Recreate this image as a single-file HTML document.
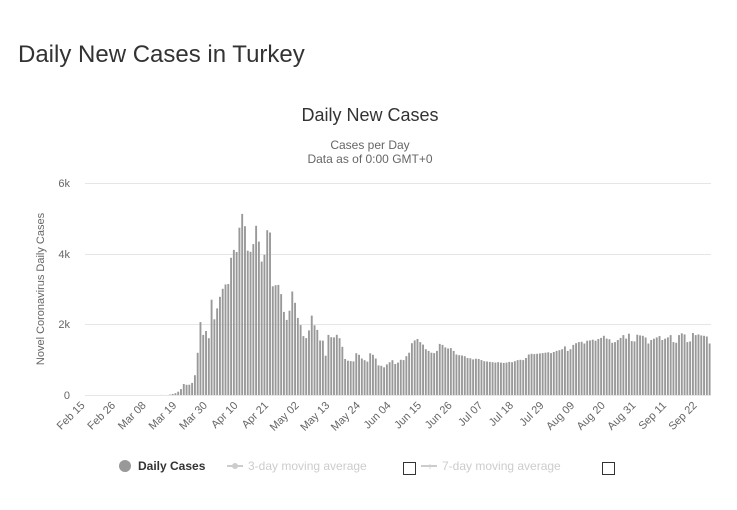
<!DOCTYPE html>
<html><head><meta charset="utf-8"><style>
html,body{margin:0;padding:0;background:#fff;width:737px;height:510px;overflow:hidden}
svg{display:block;font-family:"Liberation Sans",sans-serif}
</style></head><body>
<svg id="c" width="737" height="510" xmlns="http://www.w3.org/2000/svg">
<text x="18" y="62" font-size="24" fill="#333">Daily New Cases in Turkey</text>
<text x="370" y="121" font-size="18" fill="#333" text-anchor="middle">Daily New Cases</text>
<text x="370" y="149" font-size="12" fill="#666" text-anchor="middle">Cases per Day</text>
<text x="370" y="163" font-size="12" fill="#666" text-anchor="middle">Data as of 0:00 GMT+0</text>
<g stroke="#e6e6e6" stroke-width="1">
<line x1="85" y1="183.5" x2="711" y2="183.5"/>
<line x1="85" y1="254.5" x2="711" y2="254.5"/>
<line x1="85" y1="324.5" x2="711" y2="324.5"/>
<line x1="85" y1="395.5" x2="711" y2="395.5"/>
</g>
<g font-size="11" fill="#666" text-anchor="end">
<text x="70" y="187">6k</text>
<text x="70" y="258">4k</text>
<text x="70" y="328">2k</text>
<text x="70" y="399">0</text>
</g>
<text transform="translate(44,289) rotate(-90)" font-size="11" fill="#666" text-anchor="middle">Novel Coronavirus Daily Cases</text>
<g id="bars" fill="#999"></g>
<g id="xl" font-size="11" fill="#666" text-anchor="end"></g>
<circle cx="125" cy="466" r="6" fill="#999"/>
<text x="138" y="470" font-size="12" font-weight="bold" fill="#333">Daily Cases</text>
<line x1="227" y1="466" x2="243" y2="466" stroke="#ccc" stroke-width="2"/>
<circle cx="235" cy="466" r="3" fill="#ccc"/>
<text x="248" y="470" font-size="12" fill="#ccc">3-day moving average</text>
<rect x="403.5" y="462.5" width="12" height="12" fill="#fff" stroke="#333"/>
<line x1="421" y1="466" x2="437" y2="466" stroke="#ccc" stroke-width="2"/>
<text x="430" y="470" font-size="10" fill="#ccc" text-anchor="middle">+</text>
<text x="442" y="470" font-size="12" fill="#ccc">7-day moving average</text>
<rect x="602.5" y="462.5" width="12" height="12" fill="#fff" stroke="#333"/>
</svg>
<script>
var early=[1,0,4,0,1,12,29,51,93,168,311,289,293,343,561,1196,2069,1704,1815,1610,2704,2148,2456,2786,3013,3135,3148,3892,4117,4056,4747,5138,4789,4093,4062,4281,4801,4353,3783,3977,4674,4611,3083,3116,3122,2861,2357,2131,2392,2936,2615,2188,1983,1670,1614,1832,2253,1977,1848,1546,1542,1114,1704,1641,1635,1708,1610,1368,1022,972,961,952,1186,1141,1035,987,948,1182,1141,1035,839,827,786,867,930,988,879,920,1000,990,1100,1200,1470,1550,1590,1500,1430,1300,1250,1200,1190,1250,1450,1420,1350,1320,1330,1250,1150,1130,1120,1100,1050,1040,1010,1030,1020,990,960,950,940,930,920,930,920,910,920,940,930,960,990,1000,990,1050,1150,1170,1160,1170,1180,1190,1200,1210,1190,1220,1250,1270,1300,1380,1250,1300,1420,1470,1500,1510,1460,1540,1550,1570,1540,1590,1620,1680,1600,1580,1480,1500,1560,1620,1700,1600,1740,1530,1520,1710,1690,1680,1630,1460];
var tail=[1700,1500,1480,1700,1750,1720,1500,1520,1760,1700,1720,1690,1680,1660,1460];
var n=225,start=25;
var vals=[];for(var i=0;i<n;i++){vals.push(i<start?0:0);}
for(i=0;i<early.length&&start+i<n;i++)vals[start+i]=early[i];
var last=start+early.length;
// fill gap between early end and tail
var tstart=n-tail.length;
for(i=last;i<tstart;i++)vals[i]=1550+((i*37)%150);
for(i=0;i<tail.length;i++)vals[tstart+i]=tail[i];
var x0=85,w=626/n,g=document.getElementById('bars'),s='';
for(i=0;i<n;i++){var h=vals[i]*211.5/6000;if(h<=0)continue;s+='<rect x="'+(x0+i*w+0.45).toFixed(2)+'" y="'+(395-h).toFixed(1)+'" width="'+(w-0.9).toFixed(2)+'" height="'+h.toFixed(1)+'"/>';}
g.innerHTML=s;
var labs=['Feb 15','Feb 26','Mar 08','Mar 19','Mar 30','Apr 10','Apr 21','May 02','May 13','May 24','Jun 04','Jun 15','Jun 26','Jul 07','Jul 18','Jul 29','Aug 09','Aug 20','Aug 31','Sep 11','Sep 22'];
var t='';for(i=0;i<labs.length;i++){var cx=x0+(i*11+0.5)*w-1;t+='<text transform="translate('+cx.toFixed(1)+',406) rotate(-45)">'+labs[i]+'</text>';}
document.getElementById('xl').innerHTML=t;
</script>
</body></html>
